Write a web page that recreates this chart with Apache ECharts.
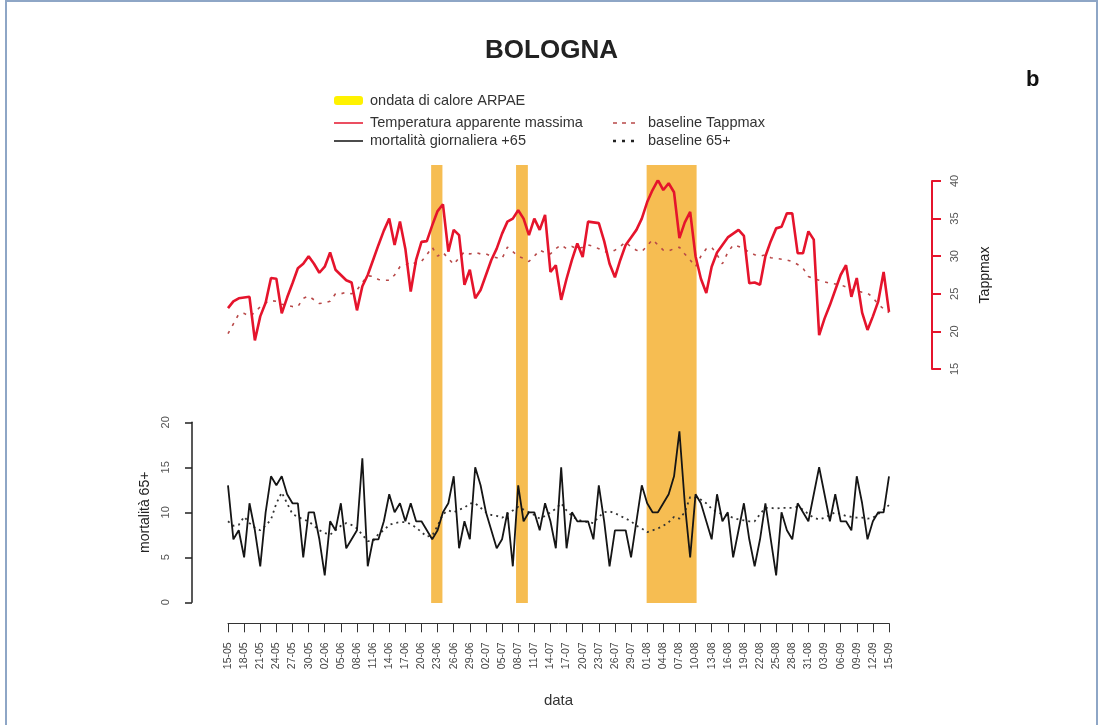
<!DOCTYPE html>
<html>
<head>
<meta charset="utf-8">
<script src="https://cdn.jsdelivr.net/npm/echarts@6/dist/echarts.min.js"></script>
<style>
html,body{margin:0;padding:0;background:#fff;}
#chart{width:1103px;height:725px;}
</style>
</head>
<body>
<div id="chart"></div>
<script>
// ---- data (day index 0 = 15-05, last = 15-09) ----
const startDay = '2000-05-15';
const nDays = 124;
const dateLabels = (function () {
  const out = [];
  const d0 = new Date(startDay + 'T00:00:00Z');
  for (let i = 0; i < nDays; i++) {
    const d = new Date(d0.getTime() + i * 86400000);
    const dd = String(d.getUTCDate()).padStart(2, '0');
    const mm = String(d.getUTCMonth() + 1).padStart(2, '0');
    out.push(dd + '-' + mm);
  }
  return out;
})();

// Temperatura apparente massima (Tappmax)
const tappmax = [
  23.1, 24.0, 24.4, 24.5, 24.6, 18.8, 22.0, 23.8, 27.1, 27.0,
  22.4, 24.5, 26.4, 28.4, 29.0, 30.0, 29.0, 27.8, 28.6, 30.5,
  28.2, 27.5, 26.8, 26.5, 22.8, 26.0, 27.5, 29.5, 31.5, 33.4,
  35.0, 31.5, 34.6, 31.0, 25.3, 29.5, 31.9, 32.0, 34.1, 36.0,
  36.9, 30.6, 33.5, 32.8, 26.2, 28.2, 24.4, 25.5, 27.5, 29.5,
  31.0, 33.0, 34.6, 35.0, 36.1, 35.0, 32.8, 35.0, 33.5, 35.5,
  27.9, 28.8, 24.2, 27.0, 29.5, 31.7, 29.9, 34.6, 34.5, 34.4,
  32.0, 29.0, 27.2, 29.5, 31.5, 32.5, 33.5, 35.0, 37.2, 38.8,
  40.1, 38.8, 39.7, 38.5, 32.4, 34.5, 35.9, 30.0, 27.0, 25.1,
  28.6, 30.5, 31.5, 32.5, 33.0, 33.5, 32.7, 26.4, 26.5, 26.2,
  30.0, 32.0, 33.7, 33.9, 35.7, 35.7, 30.4, 30.4, 33.3, 32.2,
  19.5, 21.7, 23.5, 25.5, 27.5, 28.8, 24.6, 27.1, 22.5, 20.2,
  22.0, 24.0, 27.9, 22.6
];
// baseline Tappmax
const baselineTapp = [
  19.7, 21.0, 22.3, 22.4, 22.0, 22.5, 23.3, 23.8, 24.1, 24.0,
  23.6, 23.5, 23.3, 23.3, 24.4, 24.7, 24.2, 23.7, 23.8, 24.0,
  25.0, 25.0, 25.2, 25.0, 25.5, 26.5, 27.4, 27.3, 26.9, 26.8,
  26.8, 27.5, 28.6, 28.8, 29.3, 29.0, 29.3, 30.2, 31.2, 30.0,
  30.5, 29.7, 28.9, 29.8, 30.6, 30.3, 30.5, 30.3, 30.3, 30.0,
  29.8, 29.7, 31.2, 30.6, 30.0, 29.7, 29.3, 30.0, 30.8, 30.5,
  30.3, 31.0, 31.5, 31.0, 31.3, 31.0, 31.2, 31.5, 31.3, 31.0,
  30.6, 30.5, 30.8, 31.3, 31.9, 31.2, 30.8, 30.6, 31.4, 32.2,
  31.5, 30.8, 30.7, 31.0, 31.2, 30.3, 29.5, 28.6, 30.0, 31.0,
  31.2, 30.2, 29.0, 30.5, 31.5, 31.3, 31.0, 30.5, 30.2, 30.0,
  30.2, 29.8, 29.7, 29.6, 29.5, 29.3, 28.9, 28.4, 27.3, 27.0,
  26.8, 26.6, 26.4, 26.3, 26.2, 25.9, 25.5, 25.4, 25.2, 25.1,
  24.5, 23.6, 23.0, 22.5
];
// mortalità giornaliera +65
const mortality = [
  13, 7, 8, 5, 11, 8, 4, 10, 14, 13,
  14, 12, 11, 11, 5, 10, 10, 7, 3, 9,
  8, 11, 6, 7, 8, 16, 4, 7, 7, 9,
  12, 10, 11, 9, 11, 9, 9, 8, 7, 8,
  10, 11, 14, 6, 9, 7, 15, 13, 10, 8,
  6, 7, 10, 4, 13, 9, 10, 10, 8, 11,
  9, 6, 15, 6, 10, 9, 9, 9, 7, 13,
  9, 4, 8, 8, 8, 5, 9, 13, 11, 10,
  10, 11, 12, 14, 19, 11, 5, 12, 11, 9,
  7, 12, 9, 10, 5, 8, 11, 7, 4, 7,
  11, 7, 3, 10, 8, 7, 11, 10, 9, 12,
  15, 12, 9, 12, 9, 9, 8, 14, 11, 7,
  9, 10, 10, 14
];
// baseline 65+
const baseline65 = [
  9.0, 8.5, 8.6, 9.5, 8.8, 8.3, 8.0, 8.5, 9.2, 11.0,
  12.2, 11.0, 9.8, 9.5, 9.2, 9.0, 8.5, 8.0, 7.7, 7.5,
  8.0, 8.5, 8.8, 8.6, 8.2, 7.5, 6.8, 6.8, 7.6, 8.0,
  8.6, 8.8, 8.9, 8.9, 8.7, 8.3, 7.8, 7.3, 7.4, 8.5,
  9.8, 10.2, 10.0, 10.3, 10.5, 11.0, 11.0, 10.5, 10.0, 9.7,
  9.6, 9.4, 9.8, 10.2, 10.6, 10.3, 10.0, 9.7, 9.3, 9.6,
  10.0, 10.4, 11.0, 10.2, 9.6, 9.2, 9.0, 8.9, 8.8, 9.5,
  10.0, 10.1, 9.9, 9.6, 9.3, 9.0, 8.5, 8.2, 7.8, 8.0,
  8.2, 8.5, 8.9, 9.5, 9.3, 10.0, 11.7, 11.6, 11.4, 11.0,
  10.4, 10.0, 9.8, 9.6, 9.4, 9.2, 9.1, 9.0, 9.0, 9.8,
  10.5, 10.5, 10.4, 10.5, 10.5, 10.5, 10.6, 10.3, 9.8, 9.4,
  9.2, 9.4, 9.7, 10.0, 9.8, 9.6, 9.5, 9.4, 9.4, 9.3,
  9.4, 9.8, 10.3, 10.8
];
// ondate di calore ARPAE (start / end, in day index)
const heatStart = [37.8, 53.6, 77.9];
const heatEnd   = [39.9, 55.8, 87.2];

const tappTicks = [15, 20, 25, 30, 35, 40];
const mortTicks = [0, 5, 10, 15, 20];

// ---- chart ----
const pairs = arr => arr.map((v, i) => [i, v]);
const bands = heatStart.map((s, i) => [s, heatEnd[i]]);

const chart = echarts.init(document.getElementById('chart'), null, {renderer: 'canvas'});
const FONT = 'Liberation Sans, Arial, sans-serif';
const RED = '#E5142C';
const LEG = 14.5;

const gridL = 228, gridR = 1103 - 889;

const option = {
  backgroundColor: '#ffffff',
  animation: false,
  textStyle: {fontFamily: FONT},
  title: [
    {text: 'BOLOGNA', left: 'center', top: 33,
     textStyle: {fontFamily: FONT, fontSize: 26, fontWeight: 'bold', color: '#222'}},
    {text: 'b', left: 1021, top: 64,
     textStyle: {fontFamily: FONT, fontSize: 22, fontWeight: 'bold', color: '#111'}}
  ],
  grid: [
    {left: gridL, right: gridR, top: 181, height: 188},
    {left: gridL, right: gridR, top: 422.3, height: 180},
    {left: gridL, right: gridR, top: 165, height: 438}
  ],
  xAxis: [
    {type: 'value', gridIndex: 0, min: 0, max: nDays - 1, show: false},
    {type: 'value', gridIndex: 1, min: 0, max: nDays - 1, interval: 3,
     position: 'bottom', offset: 21,
     name: 'data', nameLocation: 'middle', nameGap: 70,
     nameTextStyle: {fontFamily: FONT, fontSize: 15, color: '#333'},
     axisLine: {show: true, onZero: false, lineStyle: {color: '#333', width: 1}},
     axisTick: {show: true, length: 9, lineStyle: {color: '#333'}},
     splitLine: {show: false},
     axisLabel: {rotate: 90, fontSize: 10.5, color: '#444', margin: 19,
                 showMinLabel: true, showMaxLabel: true,
                 formatter: v => dateLabels[Math.round(v)] || ''}},
    {type: 'value', gridIndex: 2, min: 0, max: nDays - 1, show: false}
  ],
  yAxis: [
    {type: 'value', gridIndex: 0, position: 'right', offset: 932 - 889,
     min: 15, max: 40, interval: 5,
     name: 'Tappmax', nameLocation: 'middle', nameRotate: 90, nameGap: 46,
     nameTextStyle: {fontFamily: FONT, fontSize: 14, color: '#222'},
     axisLine: {show: true, onZero: false, lineStyle: {color: RED, width: 2}},
     axisTick: {show: true, length: 9, lineStyle: {color: RED, width: 2}},
     splitLine: {show: false},
     axisLabel: {rotate: 90, fontSize: 11, color: '#555', margin: 17}},
    {type: 'value', gridIndex: 1, position: 'left', offset: gridL - 192,
     min: 0, max: 20, interval: 5,
     name: 'mortalità 65+', nameLocation: 'middle', nameRotate: 90, nameGap: 39,
     nameTextStyle: {fontFamily: FONT, fontSize: 14, color: '#222'},
     axisLine: {show: true, onZero: false, lineStyle: {color: '#222', width: 1.5}},
     axisTick: {show: true, length: 7, lineStyle: {color: '#222', width: 1.5}},
     splitLine: {show: false},
     axisLabel: {rotate: 90, fontSize: 11, color: '#555', margin: 21}},
    {type: 'value', gridIndex: 2, min: 0, max: 1, show: false}
  ],
  series: [
    {
      name: 'ondata di calore ARPAE', type: 'custom', xAxisIndex: 2, yAxisIndex: 2, z: 1,
      data: bands,
      renderItem: function (params, api) {
        const p0 = api.coord([api.value(0), 1]);
        const p1 = api.coord([api.value(1), 0]);
        return {type: 'rect',
          shape: {x: p0[0], y: p0[1], width: p1[0] - p0[0], height: p1[1] - p0[1]},
          style: {fill: '#F5B43A', opacity: 0.88}};
      }
    },
    {name: 'baseline Tappmax', type: 'line', xAxisIndex: 0, yAxisIndex: 0, z: 3,
     data: pairs(baselineTapp), symbol: 'none',
     lineStyle: {color: '#B84848', width: 1.6, type: [3, 6]}},
    {name: 'Temperatura apparente massima', type: 'line', xAxisIndex: 0, yAxisIndex: 0, z: 4,
     data: pairs(tappmax), symbol: 'none',
     lineStyle: {color: RED, width: 2.6}},
    {name: 'baseline 65+', type: 'line', xAxisIndex: 1, yAxisIndex: 1, z: 3,
     data: pairs(baseline65), symbol: 'none',
     lineStyle: {color: '#333', width: 1.8, type: [2, 4]}},
    {name: 'mortalità giornaliera +65', type: 'line', xAxisIndex: 1, yAxisIndex: 1, z: 4,
     data: pairs(mortality), symbol: 'none',
     lineStyle: {color: '#151515', width: 1.8}}
  ],
  graphic: [
    {type: 'rect', shape: {x: 6, y: 1, width: 1091, height: 760},
     style: {fill: 'none', stroke: '#8EA6C6', lineWidth: 2}, silent: true, z: 100},
    // legend
    {type: 'rect', shape: {x: 334, y: 96, width: 29, height: 9, r: 3},
     style: {fill: '#FFF200'}},
    {type: 'text', x: 370, y: 101, style: {text: 'ondata di calore ARPAE', fontSize: LEG, fontFamily: FONT, fill: '#333', verticalAlign: 'middle'}},
    {type: 'line', shape: {x1: 334, y1: 123, x2: 363, y2: 123}, style: {stroke: RED, lineWidth: 1.5}},
    {type: 'text', x: 370, y: 123, style: {text: 'Temperatura apparente massima', fontSize: LEG, fontFamily: FONT, fill: '#333', verticalAlign: 'middle'}},
    {type: 'line', shape: {x1: 334, y1: 141, x2: 363, y2: 141}, style: {stroke: '#111', lineWidth: 1.5}},
    {type: 'text', x: 370, y: 141, style: {text: 'mortalità giornaliera +65', fontSize: LEG, fontFamily: FONT, fill: '#333', verticalAlign: 'middle'}},
    {type: 'line', shape: {x1: 613, y1: 123, x2: 638, y2: 123}, style: {stroke: '#B84848', lineWidth: 1.5, lineDash: [4, 5]}},
    {type: 'text', x: 648, y: 123, style: {text: 'baseline Tappmax', fontSize: LEG, fontFamily: FONT, fill: '#333', verticalAlign: 'middle'}},
    {type: 'line', shape: {x1: 613, y1: 141, x2: 638, y2: 141}, style: {stroke: '#222', lineWidth: 2.5, lineDash: [3, 6]}},
    {type: 'text', x: 648, y: 141, style: {text: 'baseline 65+', fontSize: LEG, fontFamily: FONT, fill: '#333', verticalAlign: 'middle'}}
  ]
};
chart.setOption(option);
</script>
</body>
</html>
